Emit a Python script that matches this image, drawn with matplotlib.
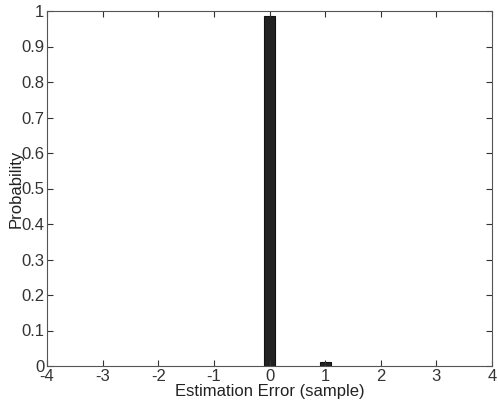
import matplotlib
matplotlib.use('Agg')
import matplotlib.pyplot as plt

# Histogram of estimation error
errors = [0, 1]
probs = [0.986, 0.011]

plt.rcParams['font.family'] = ['Liberation Sans', 'DejaVu Sans']
plt.rcParams['axes.unicode_minus'] = False

fig = plt.figure(figsize=(4.98, 4.03), dpi=100)
ax = fig.add_axes([47 / 498, 1 - 366 / 403, 445 / 498, 355 / 403])

ax.bar(errors, probs, width=0.2, color='#222222', edgecolor='#111111', linewidth=0.8)

ax.set_xlim(-4, 4)
ax.set_ylim(0, 1)
ax.set_xticks(range(-4, 5))
ax.set_yticks([i / 10 for i in range(11)])
ax.set_yticklabels(['0', '0.1', '0.2', '0.3', '0.4', '0.5', '0.6', '0.7', '0.8', '0.9', '1'])
ax.tick_params(direction='in', top=True, right=True, length=4, labelsize=12,
               colors='#333333', pad=2)
for s in ax.spines.values():
    s.set_color('#555555')
    s.set_linewidth(0.8)

ax.set_xlabel('Estimation Error (sample)', fontsize=12, color='#222222', labelpad=0)
ax.set_ylabel('Probability', fontsize=12, color='#222222', labelpad=-2)

fig.savefig('out.png', dpi=100)
